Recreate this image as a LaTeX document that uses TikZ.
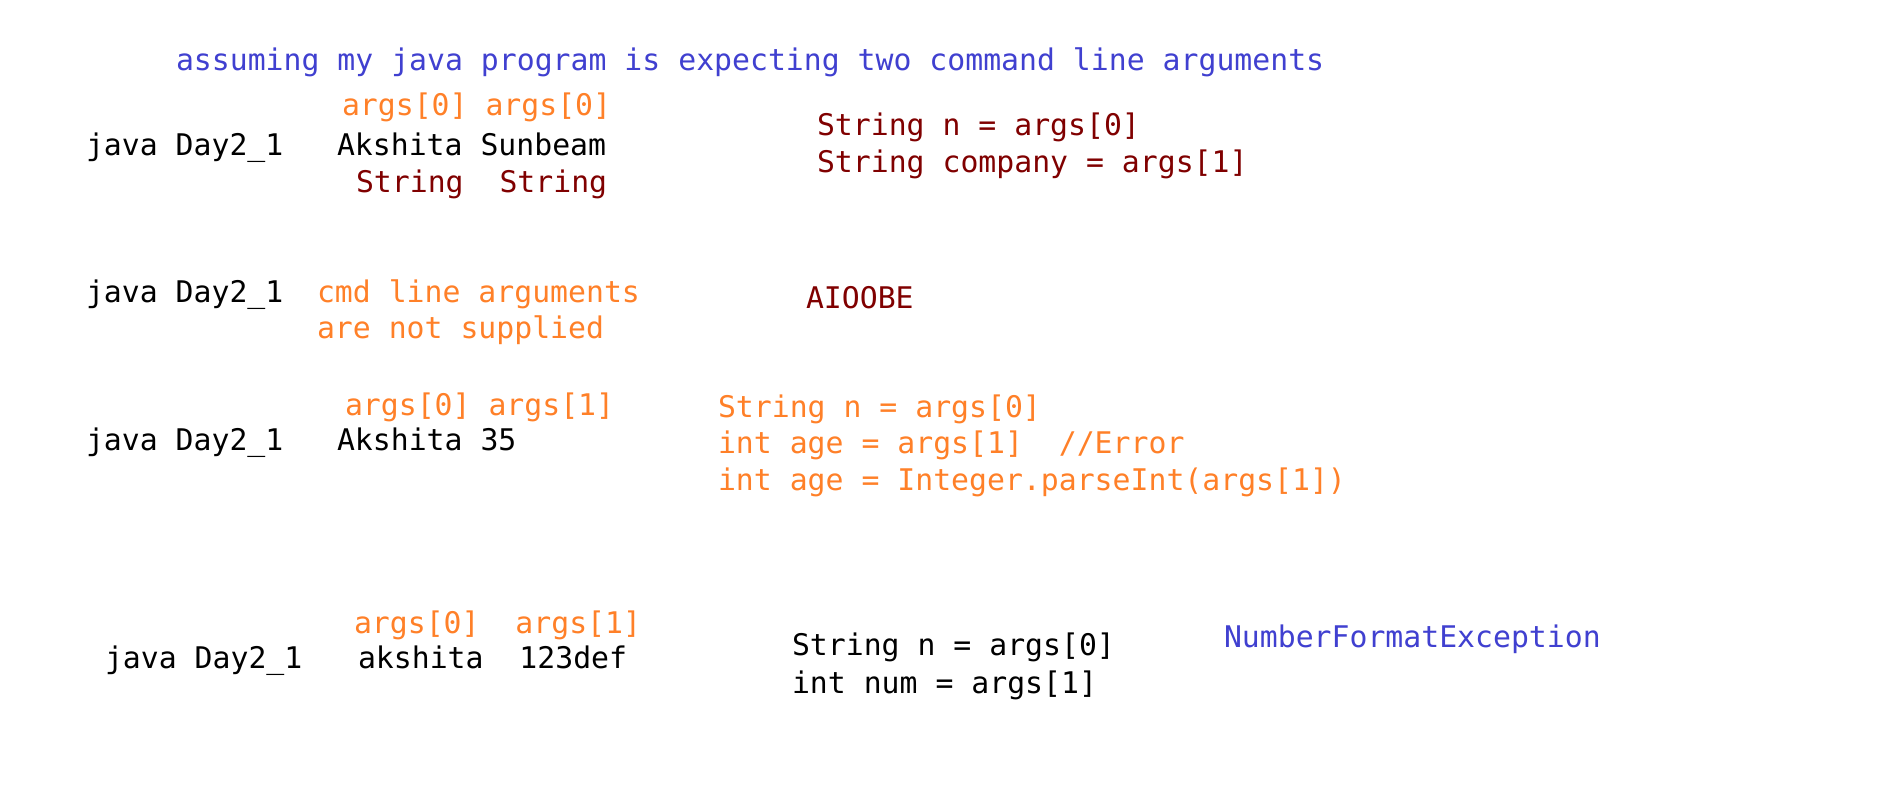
\documentclass[tikz,border=0pt]{standalone}
\usepackage{fontspec}
\setmonofont{DejaVu Sans Mono}
\definecolor{tblue}{RGB}{64,64,208}
\definecolor{torange}{RGB}{255,128,40}
\definecolor{tred}{RGB}{128,0,0}
\begin{document}
\begin{tikzpicture}[x=0.5pt,y=-0.5pt,
  txt/.style={anchor=base west,inner sep=0pt,outer sep=0pt,font=\ttfamily\fontsize{14.9pt}{18pt}\selectfont},
  blk/.style={txt,text=black},
  blu/.style={txt,text=tblue},
  org/.style={txt,text=torange},
  dred/.style={txt,text=tred}]
\useasboundingbox[fill=white] (0,0) rectangle (1877,787);
% title
\node[blu] (title) at (176,70) {assuming my java program is expecting two command line arguments};
% row 1
\node[org] (r1args) at (342,115) {args[0] args[0]};
\node[blk] (r1java) at (86,155) {java Day2\_1};
\node[blk] (r1vals) at (337,155) {Akshita Sunbeam};
\node[dred] (r1types) at (356,192) {String~~String};
\node[dred] (r1c1) at (817,135) {String n = args[0]};
\node[dred] (r1c2) at (817,172) {String company = args[1]};
% row 2
\node[blk] (r2java) at (86,302) {java Day2\_1};
\node[org] (r2n1) at (317,302) {cmd line arguments};
\node[org] (r2n2) at (317,338) {are not supplied};
\node[dred] (r2ex) at (806,308) {AIOOBE};
% row 3
\node[org] (r3args) at (345,415) {args[0] args[1]};
\node[blk] (r3java) at (86,450) {java Day2\_1};
\node[blk] (r3vals) at (337,450) {Akshita 35};
\node[org] (r3c1) at (718,417) {String n = args[0]};
\node[org] (r3c2) at (718,453) {int age = args[1]~~//Error};
\node[org] (r3c3) at (718,490) {int age = Integer.parseInt(args[1])};
% row 4
\node[org] (r4args) at (354,633) {args[0]~~args[1]};
\node[blk] (r4java) at (105,668) {java Day2\_1};
\node[blk] (r4vals) at (358,668) {akshita~~123def};
\node[blk] (r4c1) at (792,655) {String n = args[0]};
\node[blk] (r4c2) at (792,693) {int num = args[1]};
\node[blu] (r4ex) at (1224,647) {NumberFormatException};
\end{tikzpicture}
\end{document}
